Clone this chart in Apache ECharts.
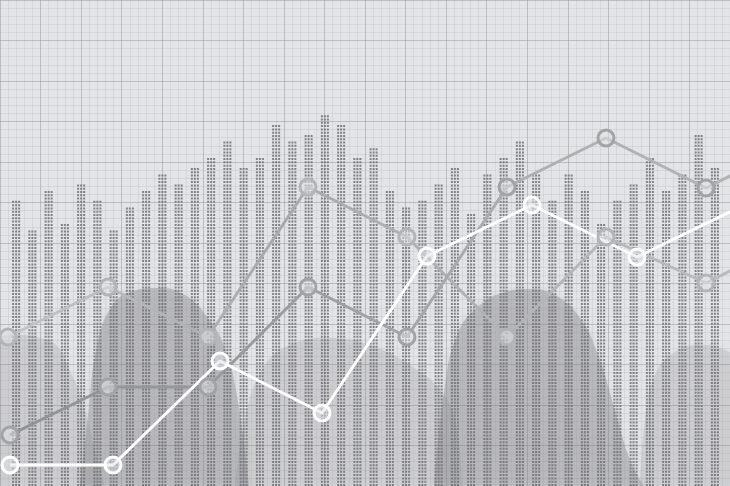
<!DOCTYPE html>
<html>
<head>
<meta charset="utf-8">
<script src="https://cdn.jsdelivr.net/npm/echarts@6/dist/echarts.min.js"></script>
<style>
html,body{margin:0;padding:0;background:#e3e4e6;}
#chart{width:730px;height:486px;}
</style>
</head>
<body>
<div id="chart"></div>
<script>
// ---- data (heights measured from the bottom of the plot, in plot units 0..486) ----
const barCategories = Array.from({length: 44}, (_, i) => 'C' + (i + 1));
const barHeights = [284,254,293,261,300,284,254,277,293,310,300,316,326,342,316,
                    326,358,342,349,368,358,326,335,293,277,284,300,316,271,310,
                    326,342,310,284,310,293,261,284,300,326,293,310,349,316];

const whiteX = [10,113,220,322,427,532,637,742];
const whiteY = [21,21,125,73,230,281,229,280];

const lineAX = [8,108,208,308,407,507,606,706,806];
const lineAY = [149,199,149,299,249,149,249,203,253];

const lineBX = [10,108,208,308,407,507,606,706,806];
const lineBY = [51,99,99,199,149,299,348,298,348];

// background hills: [x, height]
const hillLeft   = [[-60,0],[-40,120],[-15,146],[15,151],[40,148],[57,140],[70,115],[82,86],[95,36],[105,0]];
const hillDomeL  = [[80,0],[88,70],[97,140],[112,180],[133,195],[158,198],[185,191],[208,168],[224,140],[237,90],[249,0]];
const hillMiddle = [[235,0],[245,66],[262,116],[290,141],[330,148],[370,141],[410,121],[440,96],[455,66],[462,0]];
const hillDomeR  = [[434,0],[443,86],[457,151],[480,181],[505,194],[528,197],[555,191],[580,168],[598,131],[615,76],[630,26],[644,0]];
const hillRight  = [[640,0],[645,66],[655,111],[675,134],[700,141],[725,136],[750,118],[770,0]];

const pair = (xs, ys) => xs.map((x, i) => [x, ys[i]]);

const chart = echarts.init(document.getElementById('chart'), null, {renderer: 'canvas'});

const gridAxis = (max, color, width) => ({
  gridIndex: 0, type: 'value', min: 0, max: max, interval: 1,
  axisLine: {show: false}, axisTick: {show: false}, axisLabel: {show: false},
  splitLine: {show: true, lineStyle: {color: color, width: width}},
  z: 1
});

const hill = (data, color) => ({
  type: 'line', xAxisIndex: 0, yAxisIndex: 0, data: data,
  smooth: 0.45, symbol: 'none', silent: true,
  lineStyle: {width: 0},
  areaStyle: {color: color, opacity: 1, shadowBlur: 6, shadowColor: color}, z: 0
});

const hGrad = (stops) => new echarts.graphic.LinearGradient(0, 0, 1, 0,
  stops.map((c, i) => ({offset: i / (stops.length - 1), color: c})));

const lineSeries = (data, lineColor, circleColor, width) => ({
  type: 'line', xAxisIndex: 0, yAxisIndex: 0, data: data,
  symbol: 'circle', symbolSize: 16, showSymbol: true, silent: true,
  lineStyle: {color: lineColor, width: width},
  itemStyle: {color: 'rgba(226,227,229,0.5)', borderColor: circleColor, borderWidth: 3},
  z: 5
});

chart.setOption({
  backgroundColor: '#e3e4e6',
  animation: false,
  grid: [
    {left: 0, right: 0, top: 0, bottom: 0},
    {left: 8, right: 7, top: 0, bottom: 0}
  ],
  xAxis: [
    {gridIndex: 0, type: 'value', min: 0, max: 730, show: false},
    gridAxis(90, 'rgba(150,152,158,0.16)', 1),
    gridAxis(18, 'rgba(120,122,128,0.28)', 1),
    {gridIndex: 1, type: 'category', data: barCategories, show: false}
  ],
  yAxis: [
    {gridIndex: 0, type: 'value', min: 0, max: 486, show: false},
    gridAxis(60, 'rgba(150,152,158,0.16)', 1),
    gridAxis(12, 'rgba(120,122,128,0.28)', 1),
    {gridIndex: 1, type: 'value', min: 0, max: 486, show: false}
  ],
  series: [
    hill(hillLeft,   'rgba(150,151,156,0.24)'),
    hill(hillMiddle, 'rgba(150,151,156,0.24)'),
    hill(hillRight,  'rgba(150,151,156,0.24)'),
    hill(hillDomeL,  'rgba(130,131,136,0.36)'),
    hill(hillDomeR,  'rgba(130,131,136,0.36)'),
    {
      type: 'pictorialBar', xAxisIndex: 3, yAxisIndex: 3, data: barHeights,
      symbol: 'path://M0,0h2v2h-2zM3,0h2v2h-2zM6,0h2v2h-2z',
      symbolSize: [8, 2], symbolRepeat: true, symbolMargin: 0.65,
      itemStyle: {color: 'rgba(112,113,118,0.85)'}, silent: true, z: 2
    },
    lineSeries(pair(lineAX, lineAY), hGrad(['#c4c5c7', '#a8a9ab', '#b4b5b7', '#bdbec0']), '#b3b4b6', 3),
    lineSeries(pair(lineBX, lineBY), hGrad(['#909193', '#9a9b9d', '#aeafb1', '#b4b5b7']), '#a2a3a5', 3),
    lineSeries(pair(whiteX, whiteY), '#ffffff', '#ffffff', 3)
  ]
});
</script>
</body>
</html>
